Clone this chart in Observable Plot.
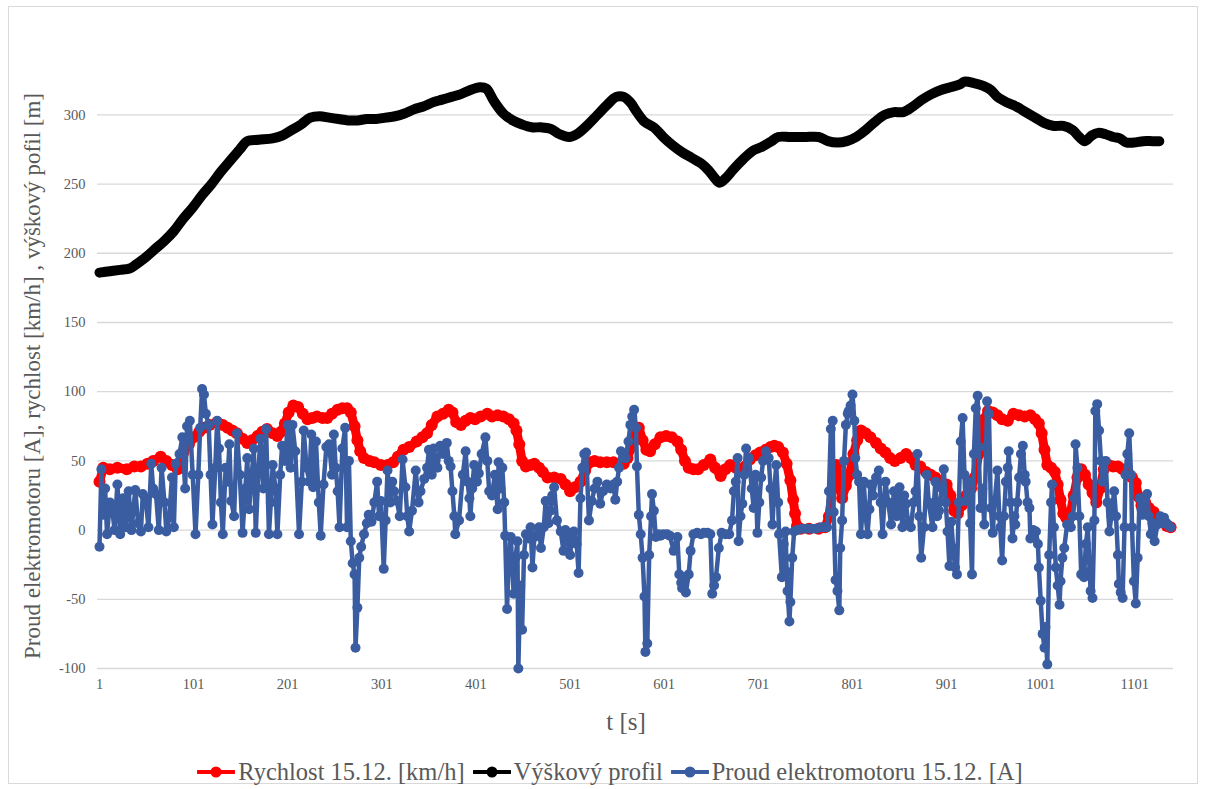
<!DOCTYPE html>
<html>
<head>
<meta charset="utf-8">
<script src="https://cdn.jsdelivr.net/npm/d3@7"></script>
<script src="https://cdn.jsdelivr.net/npm/@observablehq/plot@0.6"></script>
<style>
  html, body { margin: 0; padding: 0; background: #fff; }
  #wrap { position: relative; width: 1206px; height: 789px; overflow: hidden; font-family: "Liberation Serif", "Times New Roman", serif; color: #595959; }
  #frame { position: absolute; left: 8px; top: 6px; width: 1190px; height: 778px; border: 1px solid #d9d9d9; box-sizing: border-box; }
  #chart { position: absolute; left: 0; top: 0; }
  #ytitle { position: absolute; left: 33px; top: 376px; transform: translate(-50%, -50%) rotate(-90deg); white-space: nowrap; font-size: 23px; }
  #xtitle { position: absolute; left: 626px; top: 722px; transform: translate(-50%, -50%); font-size: 25px; white-space: nowrap; }
  #legend { position: absolute; left: 0; width: 1206px; top: 772px; transform: translateY(-50%); display: flex; justify-content: center; align-items: center; font-size: 24.5px; white-space: nowrap; padding-left: 14px; box-sizing: border-box; }
  .item { display: flex; align-items: center; margin: 0 4px; }
  .item svg { margin-right: 3px; }
</style>
</head>
<body>
<div id="wrap">
  <div id="frame"></div>
  <div id="chart"></div>
  <div id="ytitle">Proud elektromotoru [A], rychlost [km/h] , výškový pofil [m]</div>
  <div id="xtitle">t [s]</div>
  <div id="legend"></div>
</div>
<script>
// ---- tick labels ----
const xTicks = [1, 101, 201, 301, 401, 501, 601, 701, 801, 901, 1001, 1101];
const yTicks = [-100, -50, 0, 50, 100, 150, 200, 250, 300];

// ---- series names ----
const seriesNames = ["Rychlost 15.12. [km/h]", "Výškový profil", "Proud elektromotoru 15.12. [A]"];
const seriesColors = ["#ff0000", "#000000", "#3a5da2"];

// ---- Rychlost (speed) ----
const speedT = [1,5,12,20,30,38,45,52,58,66,72,78,84,90,96,101,107,112,118,126,132,137,142,147,153,158,163,169,174,179,185,190,194,198,202,207,212,217,222,227,232,238,243,248,254,259,264,268,272,275,278,282,288,293,300,307,313,318,324,330,338,344,349,354,360,366,372,376,380,385,390,395,400,406,413,418,424,430,436,441,444,447,450,454,459,463,468,472,477,484,491,496,501,506,512,517,522,527,533,540,547,553,558,562,566,570,574,578,582,586,591,597,603,609,615,619,623,627,632,637,643,650,655,661,666,671,677,682,687,692,698,703,709,714,718,722,727,731,735,738,740,742,746,755,765,772,776,780,784,787,790,794,798,802,806,810,815,820,826,831,836,841,846,852,858,863,868,873,879,884,889,895,901,905,909,913,917,922,927,931,935,938,941,945,950,955,960,966,972,978,984,990,995,999,1002,1005,1008,1012,1016,1019,1022,1025,1028,1032,1036,1040,1044,1048,1052,1056,1060,1064,1068,1073,1078,1083,1088,1093,1098,1102,1105,1108,1112,1116,1121,1126,1131,1135,1139];
const speedV = [35,45,44,45,44,46,46,48,50,53,50,47,44,56,62,67,71,74,76,78,76,74,72,70,66,63,65,68,71,73,70,68,71,77,85,90,89,84,80,81,82,81,81,84,87,88,88,85,75,65,57,52,50,49,47,47,49,53,58,60,64,67,70,76,82,84,87,85,78,76,79,81,80,82,84,82,83,82,80,77,72,62,50,46,47,48,45,42,38,38,37,33,28,31,35,43,49,50,49,49,49,48,48,52,60,70,74,65,58,57,62,67,68,67,64,58,50,45,44,44,47,51,45,39,44,47,45,43,46,51,54,56,58,60,61,60,56,48,36,22,12,3,1,1,1,2,10,30,47,35,23,32,40,55,65,72,70,67,63,59,56,52,50,52,55,52,47,46,42,40,38,35,33,25,14,12,18,25,30,38,55,68,80,86,85,83,80,79,84,83,82,83,80,77,70,58,47,45,42,33,22,12,9,10,25,38,44,40,33,27,20,30,44,47,46,46,44,42,38,34,24,18,20,16,13,9,6,3,2];

// ---- Výškový profil (elevation) ----
const elevT = [1,12,23,33,40,50,60,70,80,90,100,110,120,130,140,150,158,170,185,195,205,215,225,235,245,255,265,275,285,295,305,315,325,335,345,355,365,375,385,395,405,412,420,430,440,450,460,470,480,490,500,508,520,530,540,550,558,565,572,580,590,600,610,620,630,640,648,655,660,666,675,685,695,705,715,722,735,750,765,775,785,795,805,815,825,835,845,855,865,875,885,895,905,915,920,930,940,948,955,965,975,985,995,1005,1015,1025,1035,1042,1048,1055,1062,1070,1078,1085,1092,1100,1110,1120,1127];
const elevV = [186,187,188,189,192,197,203,209,216,225,233,242,250,259,267,275,281,282,283,285,289,293,298,299,298,297,296,296,297,297,298,299,301,304,306,309,311,313,315,318,320,319,310,301,296,293,291,291,290,286,284,286,293,300,307,313,313,309,302,295,291,284,278,273,269,265,260,254,251,254,261,268,274,277,281,284,284,284,284,281,280,281,284,289,295,300,302,302,306,311,315,318,320,322,324,323,321,318,313,309,306,302,298,294,292,292,289,284,281,285,287,286,284,283,280,280,281,281,281];

// ---- Proud elektromotoru (motor current) ----
const currentT = [1,3,5,7,9,12,14,17,20,23,26,29,32,35,39,42,45,47,50,53,56,58,61,64,67,70,72,75,78,80,82,86,89,92,94,97,100,103,106,108,110,112,114,117,119,121,124,126,128,130,132,135,137,139,141,144,147,150,153,156,158,160,162,165,167,170,172,175,178,181,183,185,188,190,193,195,198,201,204,206,209,213,216,218,221,224,226,228,231,234,236,239,242,245,248,250,252,254,256,259,262,264,266,268,270,272,273,275,277,279,282,285,287,290,293,296,298,300,303,305,307,310,312,314,317,320,323,326,328,330,333,337,340,342,346,349,351,354,356,360,363,366,370,372,374,376,378,379,383,387,390,392,394,395,397,399,402,404,407,411,413,415,418,421,424,425,427,429,431,432,434,436,438,441,443,445,446,448,450,452,454,457,459,461,463,466,468,470,473,475,478,480,482,484,487,491,494,496,498,501,503,505,508,510,512,514,516,518,521,524,527,530,533,536,540,544,547,549,551,553,555,558,560,563,565,567,569,571,572,574,576,578,580,581,583,585,587,588,590,592,595,597,600,604,607,611,615,617,619,620,622,624,627,629,632,636,640,643,647,650,652,654,656,659,662,666,670,673,675,677,679,680,682,684,686,688,691,694,696,698,700,702,704,706,709,712,714,716,718,720,722,723,726,728,730,731,732,734,735,737,739,742,747,752,757,762,767,771,774,776,778,780,781,783,785,787,788,790,792,794,796,797,799,801,803,804,806,808,810,812,813,815,817,819,820,823,826,829,831,833,836,839,842,845,848,851,854,856,858,860,863,866,868,870,872,874,877,880,882,886,889,891,893,896,898,900,902,904,906,908,910,912,914,916,918,920,921,924,926,928,930,932,934,935,937,939,941,943,944,946,948,950,952,955,957,958,960,962,964,966,967,969,971,973,974,976,978,980,982,984,985,987,989,990,993,996,998,999,1001,1003,1005,1006,1008,1010,1012,1013,1015,1017,1019,1021,1022,1024,1026,1029,1033,1035,1037,1038,1040,1042,1044,1047,1049,1051,1053,1054,1056,1058,1059,1061,1063,1065,1067,1070,1072,1074,1076,1079,1081,1083,1084,1086,1088,1090,1091,1093,1095,1097,1098,1100,1102,1104,1106,1108,1109,1112,1114,1116,1118,1120,1122,1125,1128,1130,1132,1135,1137,1139];
const currentV = [-12,44,11,30,-3,20,18,0,33,-3,23,2,28,0,29,5,-1,26,23,2,48,30,26,0,45,20,-1,9,38,2,48,55,67,30,75,79,40,-3,40,74,102,98,84,76,40,4,45,79,59,20,-3,45,35,62,21,10,70,40,-2,30,52,15,33,59,-2,45,66,30,73,-3,20,47,30,-3,40,61,50,76,45,76,57,-3,35,72,45,35,69,31,64,20,-4,33,60,62,40,69,45,28,2,59,74,2,50,-8,-24,-32,-85,-56,-20,-12,-3,5,11,6,20,35,10,21,-28,7,43,20,35,28,21,10,51,31,10,-1,14,43,20,28,37,45,58,40,59,45,61,55,63,50,46,28,10,-3,7,40,57,35,23,10,30,47,35,41,55,67,50,28,25,40,15,49,30,45,20,-4,-57,-18,-5,-46,-20,-8,-100,-40,-72,-18,-3,-6,2,-27,-5,-3,2,-13,2,21,5,14,25,31,7,-1,-15,0,-6,-18,-5,-1,-10,-31,23,45,55,56,7,21,30,35,19,28,33,30,33,22,35,45,57,52,52,64,76,82,87,74,46,11,-3,-20,-48,-88,-82,-18,10,26,14,-5,-3,-4,-3,-3,-4,-15,-5,-32,-38,-42,-35,-45,-32,-15,-3,-2,-3,-2,-2,-3,-46,-40,-34,-13,-2,-3,-3,7,28,35,52,-8,10,19,40,59,52,30,16,40,-2,20,38,50,57,52,30,4,30,47,20,-3,-34,-10,-1,-30,-44,-66,-52,-20,-1,0,1,1,1,1,2,2,2,28,73,79,13,-36,-44,-58,-13,7,50,76,84,86,90,98,79,52,40,35,-3,20,35,10,-3,15,33,25,38,43,20,-3,35,20,4,28,10,31,2,25,19,5,2,20,28,55,10,-20,2,40,20,2,35,10,14,30,44,20,-1,-26,6,-13,-27,-32,20,64,81,40,21,35,5,-32,55,88,97,60,16,30,4,60,93,84,16,-2,20,43,10,2,-22,10,35,45,57,20,-6,10,4,20,38,55,61,40,35,20,16,-6,0,-1,-10,-27,-51,-75,-85,-70,-97,-18,20,33,2,-27,-40,-54,-37,-20,-13,4,2,10,23,62,45,10,-32,-34,-10,2,-30,-44,-49,7,86,91,72,50,35,50,20,-1,10,28,10,-18,-39,-45,-49,2,40,55,70,40,2,-37,-53,-20,23,15,11,20,26,10,-3,5,-8,4,10,5,9,5,3,2];

// ---- build tables ----
const speed = speedT.map((t, i) => ({t, v: speedV[i]}));
const elev = elevT.map((t, i) => ({t, v: elevV[i]}));
const current = currentT.map((t, i) => ({t, v: currentV[i]}));

const chart = Plot.plot({
  width: 1206,
  height: 700,
  marginLeft: 99,
  marginRight: 34,
  marginTop: 59,
  marginBottom: 32,
  style: {fontFamily: "Liberation Serif, Times New Roman, serif", fontSize: "14.5px", color: "#595959", background: "transparent", overflow: "visible"},
  x: {domain: [1, 1141], ticks: xTicks, tickSize: 0, tickPadding: 10, tickFormat: d => String(d), label: null},
  y: {domain: [-100, 340], ticks: yTicks, tickSize: 0, tickPadding: 14, tickFormat: d => String(d), label: null},
  marks: [
    Plot.ruleY(yTicks, {stroke: "#d9d9d9", strokeWidth: 1.3, insetLeft: -2, insetRight: -1}),
    Plot.line(speed, {x: "t", y: "v", stroke: seriesColors[0], strokeWidth: 9, strokeLinejoin: "round", strokeLinecap: "round"}),
    Plot.dot(speed, {x: "t", y: "v", r: 6, fill: seriesColors[0], stroke: "none"}),
    Plot.line(elev, {x: "t", y: "v", stroke: seriesColors[1], strokeWidth: 10, curve: "catmull-rom", strokeLinejoin: "round", strokeLinecap: "round"}),
    Plot.line(current, {x: "t", y: "v", stroke: seriesColors[2], strokeWidth: 4.5, strokeLinejoin: "round"}),
    Plot.dot(current, {x: "t", y: "v", r: 5, fill: seriesColors[2], stroke: "none"})
  ]
});
document.getElementById("chart").appendChild(chart);

// ---- legend ----
const legend = d3.select("#legend");
seriesNames.forEach((name, i) => {
  const item = legend.append("div").attr("class", "item");
  const s = item.append("svg").attr("width", 38).attr("height", 14);
  s.append("line").attr("x1", 1).attr("x2", 37).attr("y1", 7).attr("y2", 7)
    .attr("stroke", seriesColors[i]).attr("stroke-width", 4).attr("stroke-linecap", "round");
  s.append("circle").attr("cx", 19).attr("cy", 7).attr("r", 5.5).attr("fill", seriesColors[i]);
  item.append("span").text(name);
});
</script>
</body>
</html>
